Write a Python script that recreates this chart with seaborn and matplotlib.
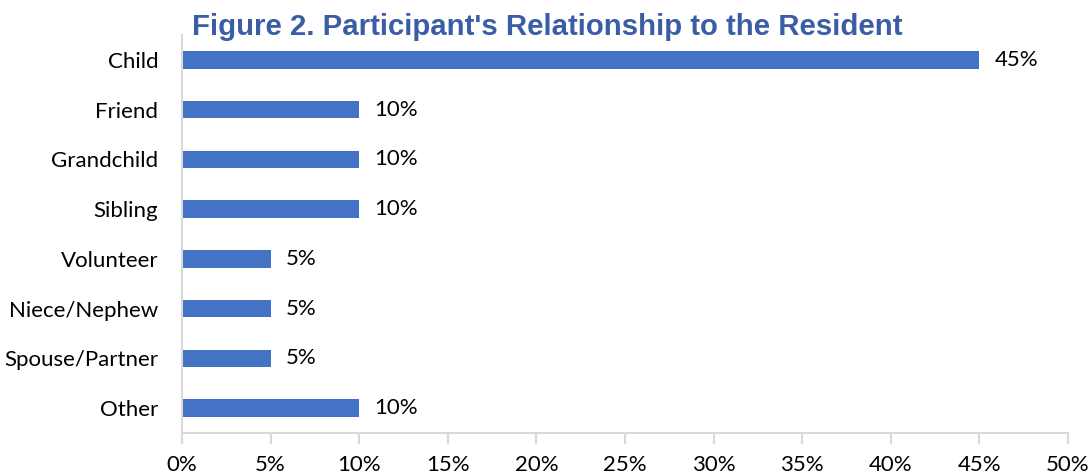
import matplotlib
matplotlib.use("Agg")
import matplotlib.pyplot as plt
import seaborn as sns
import pandas as pd

categories = ["Child", "Friend", "Grandchild", "Sibling", "Volunteer",
              "Niece/Nephew", "Spouse/Partner", "Other"]
shares = [45, 10, 10, 10, 5, 5, 5, 10]
xtick_values = [0, 5, 10, 15, 20, 25, 30, 35, 40, 45, 50]

df = pd.DataFrame({"relationship": categories, "pct": shares})

sns.set_theme(style="white")
plt.rcParams["font.family"] = ["Lato", "DejaVu Sans"]

fig = plt.figure(figsize=(10.92, 4.75), dpi=100)
ax = fig.add_axes([182 / 1092, 1 - 433 / 475, (1068 - 182) / 1092, (433 - 35) / 475])

sns.barplot(data=df, x="pct", y="relationship", order=categories,
            color="#4472C4", saturation=1, width=0.35, ax=ax, edgecolor="none")

ax.set_xlim(0, 50)
ax.set_xticks(xtick_values)
ax.set_xticklabels([f"{v}%" for v in xtick_values])
ax.set_xlabel("")
ax.set_ylabel("")

for spine in ["top", "right"]:
    ax.spines[spine].set_visible(False)
for spine in ["left", "bottom"]:
    ax.spines[spine].set_color("#D9D9D9")
    ax.spines[spine].set_linewidth(1.5)

ax.tick_params(axis="x", length=8, width=1.5, color="#D9D9D9", direction="out",
               labelsize=16, labelcolor="black", pad=8, bottom=True)
ax.tick_params(axis="y", length=0, labelsize=16, labelcolor="black", pad=17)

for i, v in enumerate(shares):
    ax.text(v + 0.85, i, f"{v}%", va="center", ha="left", fontsize=16, color="black")

fig.text(0.5015, 0.943, "Figure 2. Participant's Relationship to the Resident",
         ha="center", va="center", fontsize=21.2, fontweight="bold", color="#3A5DA6",
         family=["Liberation Sans", "DejaVu Sans"])

fig.savefig("out.png", dpi=100)
